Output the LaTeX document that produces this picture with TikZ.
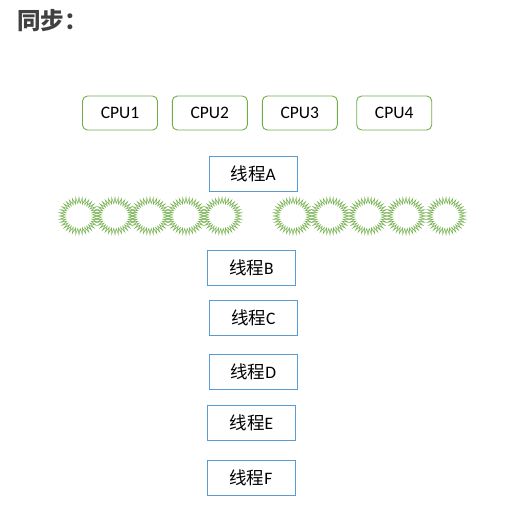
\documentclass[tikz,border=0pt]{standalone}
\usepackage{fontspec}
\setmainfont{Carlito}
\newfontfamily\cjk{Noto Sans CJK SC}
\usetikzlibrary{positioning}

\definecolor{cpugreen}{HTML}{70AD47}
\definecolor{threadblue}{HTML}{5B9BD5}
\definecolor{titlegray}{HTML}{404040}

\begin{document}
\begin{tikzpicture}[x=1pt, y=-1pt,
  cpubox/.style={draw=cpugreen, line width=0.9pt, rounded corners=5pt,
                 minimum width=75pt, minimum height=34pt, font=\fontsize{17.5}{20}\selectfont},
  threadbox/.style={draw=threadblue, line width=0.9pt,
                    minimum width=88pt, minimum height=35pt, font=\fontsize{17.5}{20}\selectfont},
  gear/.style={draw=cpugreen!90, line width=0.6pt}]
  \useasboundingbox (0,0) rectangle (509,508);

  % Title
  \node[titlegray, font=\fontsize{23.5}{26}\selectfont\cjk\bfseries, anchor=west, inner sep=0pt] (title) at (17,21) {同步：};

  % CPUs
  \node[cpubox] (cpu1) at (120,113) {CPU1};
  \node[cpubox] (cpu2) at (209.8,113) {CPU2};
  \node[cpubox] (cpu3) at (299.8,113) {CPU3};
  \node[cpubox] (cpu4) at (394.2,113) {CPU4};

  % Threads
  \node[threadbox] (thA) at (253.3,173.7) {{\cjk 线程}A};
  \node[threadbox] (thB) at (251.5,267.8) {{\cjk 线程}B};
  \node[threadbox] (thC) at (253.3,317.8) {{\cjk 线程}C};
  \node[threadbox] (thD) at (253.3,371.5) {{\cjk 线程}D};
  \node[threadbox] (thE) at (251.3,422.9) {{\cjk 线程}E};
  \node[threadbox] (thF) at (251,477.8) {{\cjk 线程}F};

  % Gears (two chains)
  \foreach \cx in {79,115,150,186,222,293,330,368,406,446} {
    \draw[gear, shift={(\cx,216)}] (0:19.5 and 18.5)
      \foreach \a in {0,10,...,350} { -- ({\a}:19.5 and 18.5) -- ({\a+5}:13.5 and 12.5) } -- cycle;
  }
\end{tikzpicture}
\end{document}
